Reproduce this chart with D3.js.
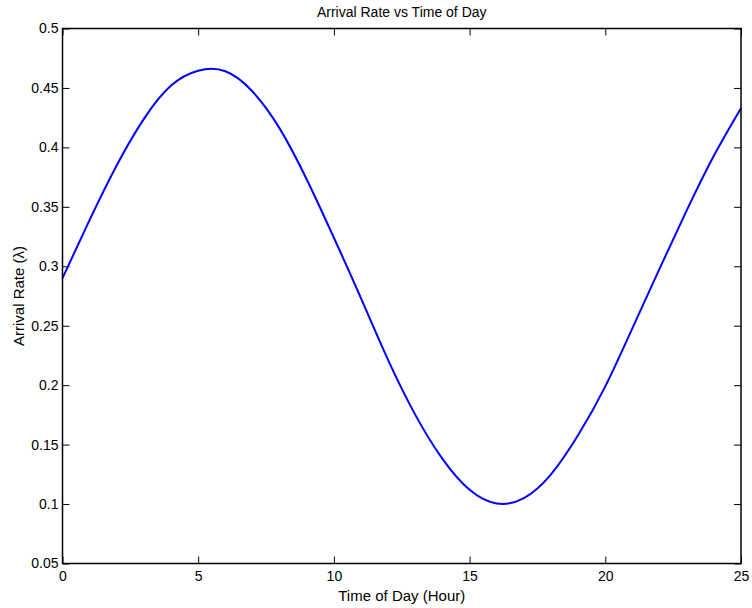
<!DOCTYPE html>
<html lang="en">
<head>
    <meta charset="UTF-8">
    <title>Arrival Rate vs Time of Day</title>
    <script src="https://d3js.org/d3.v7.min.js"></script>
    <style>
        body { margin: 0; background: #fff; }
        text { font-family: "Liberation Sans", Arial, sans-serif; fill: #000; }
    </style>
</head>
<body>
    <svg width="752" height="608"></svg>
    <script>
        // values, one per hour
        const hours = [0, 1, 2, 3, 4, 5, 6, 7, 8, 9, 10, 11, 12, 13, 14, 15, 16, 17, 18, 19, 20, 21, 22, 23, 24, 25];
        const rates = [0.290, 0.339, 0.385, 0.424, 0.452, 0.4645, 0.464, 0.447, 0.416, 0.373, 0.324, 0.273, 0.221,
                       0.175, 0.138, 0.112, 0.1005, 0.105, 0.125, 0.158, 0.199, 0.248, 0.298, 0.347, 0.393, 0.433];
        const xTicks = [0, 5, 10, 15, 20, 25];
        const yTicks = [0.05, 0.1, 0.15, 0.2, 0.25, 0.3, 0.35, 0.4, 0.45, 0.5];

        const svg = d3.select("svg");
        const axLeft = 62.5, axRight = 741, axTop = 28.5, axBottom = 563.5;
        const tickLen = 7;

        const x = d3.scaleLinear().domain([0, 25]).range([axLeft, axRight]);
        const y = d3.scaleLinear().domain([0.05, 0.5]).range([axBottom, axTop]);

        const points = hours.map((h, i) => [h, rates[i]]);

        // curve
        svg.append("path")
           .datum(points)
           .attr("fill", "none")
           .attr("stroke", "#0000ff")
           .attr("stroke-width", 2)
           .attr("d", d3.line().x(d => x(d[0])).y(d => y(d[1])).curve(d3.curveNatural));

        // axes, ticks pointing inward on every side
        svg.append("g")
           .attr("transform", `translate(0,${axBottom})`)
           .call(d3.axisBottom(x).tickValues(xTicks).tickSizeInner(-tickLen).tickSizeOuter(0).tickPadding(8))
           .call(g => g.selectAll("text").attr("font-size", 14));
        svg.append("g")
           .attr("transform", `translate(0,${axTop})`)
           .call(d3.axisTop(x).tickValues(xTicks).tickSizeInner(-tickLen).tickSizeOuter(0).tickFormat(""));
        svg.append("g")
           .attr("transform", `translate(${axLeft},0)`)
           .call(d3.axisLeft(y).tickValues(yTicks).tickSizeInner(-tickLen).tickSizeOuter(0).tickPadding(4)
                   .tickFormat(d => String(+d.toFixed(2))))
           .call(g => g.selectAll("text").attr("font-size", 14));
        svg.append("g")
           .attr("transform", `translate(${axRight},0)`)
           .call(d3.axisRight(y).tickValues(yTicks).tickSizeInner(-tickLen).tickSizeOuter(0).tickFormat(""));

        svg.selectAll(".domain").remove();
        svg.selectAll(".tick line").attr("stroke", "#000");

        svg.append("rect")
           .attr("x", axLeft).attr("y", axTop)
           .attr("width", axRight - axLeft).attr("height", axBottom - axTop)
           .attr("fill", "none").attr("stroke", "#000").attr("stroke-width", 1.5);

        // labels
        svg.append("text")
           .attr("x", (axLeft + axRight) / 2).attr("y", 17)
           .attr("text-anchor", "middle").attr("font-size", 14)
           .text("Arrival Rate vs Time of Day");
        svg.append("text")
           .attr("x", (axLeft + axRight) / 2).attr("y", 601)
           .attr("text-anchor", "middle").attr("font-size", 15)
           .text("Time of Day (Hour)");
        svg.append("text")
           .attr("transform", `translate(24,${(axTop + axBottom) / 2}) rotate(-90)`)
           .attr("text-anchor", "middle").attr("font-size", 15)
           .text("Arrival Rate (λ)");
    </script>
</body>
</html>
